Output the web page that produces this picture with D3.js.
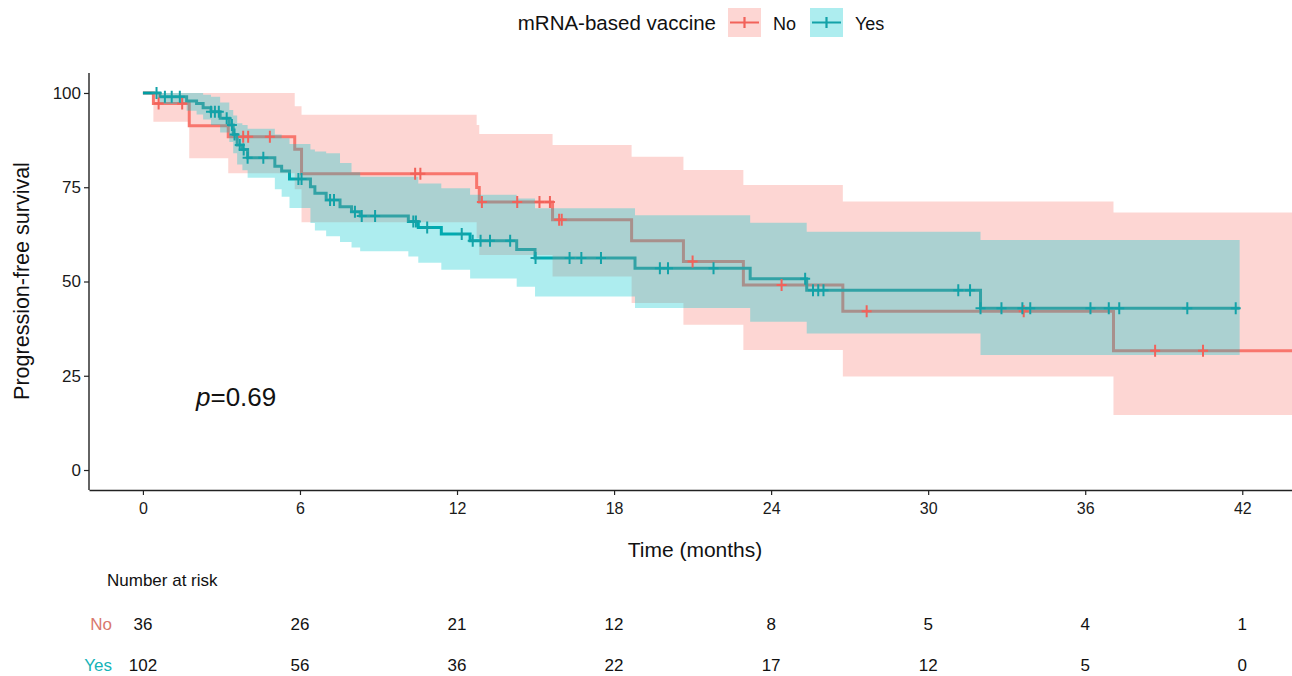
<!DOCTYPE html>
<html>
<head>
<meta charset="utf-8">
<script src="https://cdn.jsdelivr.net/npm/d3@7"></script>
<style>
  body { margin: 0; background: #fff; }
  svg { display: block; font-family: "Liberation Sans", Arial, sans-serif; }
</style>
</head>
<body>
<svg id="km"></svg>
<script>
// Kaplan-Meier steps (time in months, survival in %)
var noTime  = [0, 0.4, 1.77, 3.26, 5.8, 6.06, 12.75, 12.85, 15.65, 18.67, 20.65, 22.94, 26.74, 37.08];
var noSurv  = [100, 97.2, 91.3, 88.4, 85.1, 78.6, 74.9, 71.1, 66.4, 60.8, 55.3, 49.1, 42.1, 31.6];
var noLower = [100, 92.4, 82.7, 78.7, 74.5, 65.7, 61.5, 57.0, 51.3, 44.3, 38.5, 31.8, 24.8, 14.6];
var noUpper = [100, 100, 100, 100, 96.5, 94.2, 91.5, 89.1, 86.2, 83.1, 79.6, 75.6, 71.2, 68.3];
var noEnd = 44.5;
var noCensor = [0.6, 1.5, 3.83, 4.02, 4.85, 10.4, 10.6, 12.95, 14.3, 15.15, 15.55, 15.9, 16.0,
                21.0, 24.4, 27.65, 33.65, 38.67, 40.5];

var yesTime  = [0, 0.65, 1.67, 2.05, 2.3, 2.6, 2.95, 3.3, 3.45, 3.6, 3.8, 4.0, 5.04, 5.3, 5.6,
                6.4, 6.57, 7.0, 7.53, 7.97, 8.3, 10.14, 10.52, 11.4, 12.5, 14.28, 14.98, 18.8,
                23.2, 25.36, 32.0];
var yesSurv  = [100, 99.0, 97.9, 97.2, 96.1, 95.0, 93.3, 91.5, 89.0, 86.2, 85.0, 82.8, 80.6, 79.3, 77.2,
                75.1, 73.4, 71.6, 69.8, 68.5, 67.4, 65.9, 64.3, 62.6, 60.8, 58.5, 56.2, 53.5,
                50.7, 47.7, 42.9];
var yesLower = [100, 97.1, 95.3, 94.3, 93.0, 91.5, 89.5, 87.0, 84.0, 81.0, 79.5, 77.5, 74.5, 72.5, 69.5,
                65.5, 63.5, 62.0, 60.5, 59.0, 58.0, 56.6, 55.0, 53.1, 50.8, 48.6, 46.0, 43.0,
                39.3, 36.2, 30.5];
var yesUpper = [100, 100, 100, 100, 99.5, 99.0, 97.5, 95.5, 94.0, 92.0, 91.5, 90.5, 89.0, 88.0, 86.5,
                85.0, 84.5, 84.0, 81.4, 79.0, 77.8, 77.8, 76.0, 74.7, 73.0, 72.0, 69.4, 67.6,
                65.6, 63.2, 61.0];
var yesEnd = 41.9;
var yesCensor = [0.52, 0.84, 1.1, 1.41, 2.6, 2.75, 2.9, 3.2, 3.4, 3.5, 3.7, 3.85, 4.0, 4.6, 5.94, 6.06,
                 7.15, 7.3, 8.1, 8.36, 8.87, 10.33, 10.43, 10.86, 12.18, 12.6, 12.9, 13.26, 14.03,
                 15.0, 16.3, 16.75, 17.5, 19.75, 20.06, 21.8, 25.3, 25.6, 25.8, 26.0, 31.15, 31.6,
                 32.0, 32.8, 33.6, 33.9, 36.2, 36.9, 37.3, 39.9, 41.75];

// number at risk table
var riskTimes = [0, 6, 12, 18, 24, 30, 36, 42];
var riskNo  = [36, 26, 21, 12, 8, 5, 4, 1];
var riskYes = [102, 56, 36, 22, 17, 12, 5, 0];
var yTicks = [0, 25, 50, 75, 100];

var W = 1292, H = 676;
var plotL = 89, plotR = 1292, plotT = 73, plotB = 490;

var svg = d3.select("#km").attr("width", W).attr("height", H);

var x = d3.scaleLinear().domain([-2.06, 43.9]).range([plotL, plotR]);
var y = d3.scaleLinear().domain([-5.3, 105.3]).range([plotB, plotT]);

svg.append("clipPath").attr("id", "plotClip")
    .append("rect")
    .attr("x", plotL).attr("y", plotT)
    .attr("width", plotR - plotL).attr("height", plotB - plotT);

function makeGroup(times, surv, lower, upper, end) {
    var pts = times.map((t, i) => ({t: t, s: surv[i], lo: lower[i], hi: upper[i]}));
    var last = pts[pts.length - 1];
    pts.push({t: end, s: last.s, lo: last.lo, hi: last.hi});
    return pts;
}

var groups = [
    {name: "No",  line: "#F8766D", mark: "#F2625A", fill: "#F8766D", op: 0.3,
     pts: makeGroup(noTime, noSurv, noLower, noUpper, noEnd), times: noTime, surv: noSurv, cens: noCensor},
    {name: "Yes", line: "#009DA3", mark: "#13A2A8", fill: "#00C8CC", op: 0.32,
     pts: makeGroup(yesTime, yesSurv, yesLower, yesUpper, yesEnd), times: yesTime, surv: yesSurv, cens: yesCensor}
];

var plot = svg.append("g").attr("clip-path", "url(#plotClip)");

var line = d3.line().curve(d3.curveStepAfter)
    .x(d => x(d.t)).y(d => y(d.s));
var band = d3.area().curve(d3.curveStepAfter)
    .x(d => x(d.t)).y0(d => y(d.lo)).y1(d => y(d.hi));

// survival curves first, then confidence bands, then censor marks (survminer order)
groups.forEach(g => {
    plot.append("path")
        .attr("d", line(g.pts))
        .attr("fill", "none")
        .attr("stroke", g.line)
        .attr("stroke-width", 3);
});

groups.forEach(g => {
    plot.append("path")
        .attr("d", band(g.pts))
        .attr("fill", g.fill)
        .attr("fill-opacity", g.op);
});

groups.forEach(g => {
    var marks = plot.append("g");
    g.cens.forEach(c => {
        var i = d3.bisectRight(g.times, c) - 1;
        var cx = x(c), cy = y(g.surv[Math.max(i, 0)]);
        marks.append("path")
            .attr("d", "M" + (cx - 5) + "," + cy + "H" + (cx + 5) + "M" + cx + "," + (cy - 6) + "V" + (cy + 6))
            .attr("stroke", g.mark)
            .attr("stroke-width", 2);
    });
});

// axes
var xAxis = svg.append("g")
    .attr("transform", "translate(0," + plotB + ")")
    .call(d3.axisBottom(x).tickValues(riskTimes).tickSize(5).tickSizeOuter(0).tickPadding(8));

var yAxis = svg.append("g")
    .attr("transform", "translate(" + plotL + ",0)")
    .call(d3.axisLeft(y).tickValues(yTicks).tickSize(5).tickSizeOuter(0).tickPadding(3));

[xAxis, yAxis].forEach(a => {
    a.attr("font-family", "Liberation Sans, Arial, sans-serif");
    a.select(".domain").attr("stroke", "#222").attr("stroke-width", 1.4);
    a.selectAll(".tick line").attr("stroke", "#222").attr("stroke-width", 1.2);
});
xAxis.attr("font-size", 16).selectAll("text").attr("fill", "#1a1a1a");
yAxis.attr("font-size", 17).selectAll("text").attr("fill", "#1a1a1a");
yAxis.select(".domain").attr("d", "M0," + plotT + "V" + plotB);

// axis titles
svg.append("text")
    .attr("transform", "translate(29,281) rotate(-90)")
    .attr("text-anchor", "middle")
    .attr("font-size", 21.5)
    .attr("fill", "#111")
    .text("Progression-free survival");

svg.append("text")
    .attr("x", 695).attr("y", 557)
    .attr("text-anchor", "middle")
    .attr("font-size", 21)
    .attr("fill", "#111")
    .text("Time (months)");

// p-value
var pText = svg.append("text")
    .attr("x", 196).attr("y", 406)
    .attr("font-size", 26)
    .attr("fill", "#111");
pText.append("tspan").attr("font-style", "italic").text("p");
pText.append("tspan").text("=0.69");

// legend
svg.append("text")
    .attr("x", 716).attr("y", 30)
    .attr("text-anchor", "end")
    .attr("font-size", 20.5)
    .attr("fill", "#111")
    .text("mRNA-based vaccine");

var legendX = [728, 810];
groups.forEach((g, i) => {
    var lg = svg.append("g").attr("transform", "translate(" + legendX[i] + ",8)");
    lg.append("rect").attr("width", 33).attr("height", 29)
        .attr("fill", g.fill).attr("fill-opacity", g.op);
    lg.append("path")
        .attr("d", "M2,14.5H31M16.5,9V20")
        .attr("stroke", g.mark)
        .attr("stroke-width", 2.2);
    lg.append("text")
        .attr("x", 45).attr("y", 21.5)
        .attr("font-size", 18)
        .attr("fill", "#111")
        .text(g.name);
});

// number at risk
svg.append("text")
    .attr("x", 107).attr("y", 586)
    .attr("font-size", 17)
    .attr("fill", "#111")
    .text("Number at risk");

var rows = [
    {label: "No",  col: "#D9786E", vals: riskNo,  y: 630},
    {label: "Yes", col: "#14B3B8", vals: riskYes, y: 671}
];
rows.forEach(r => {
    svg.append("text")
        .attr("x", 112).attr("y", r.y)
        .attr("text-anchor", "end")
        .attr("font-size", 17)
        .attr("fill", r.col)
        .text(r.label);
    svg.append("g").selectAll("text")
        .data(riskTimes)
        .enter().append("text")
        .attr("x", d => x(d))
        .attr("y", r.y)
        .attr("text-anchor", "middle")
        .attr("font-size", 17)
        .attr("fill", "#111")
        .text((d, i) => r.vals[i]);
});
</script>
</body>
</html>
